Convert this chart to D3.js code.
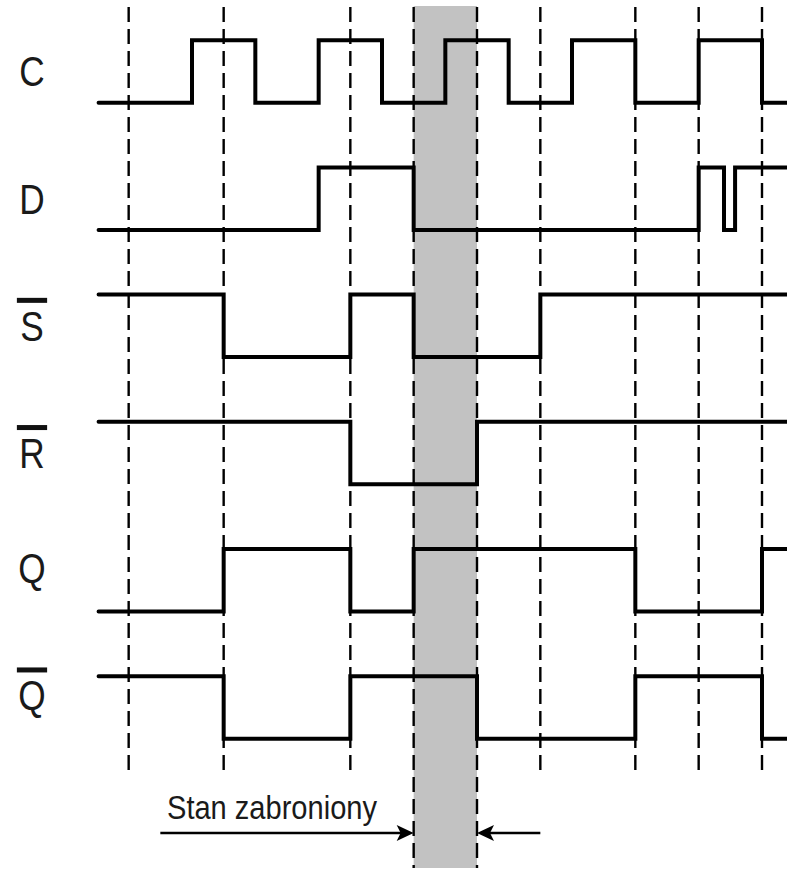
<!DOCTYPE html>
<head>
<meta charset="utf-8">
<style>
body { margin: 0; background: #fff; }
.sig {
  fill: none;
  stroke: #000;
  stroke-width: 4px;
  stroke-linejoin: miter;
  stroke-linecap: round;
}
.grid {
  stroke: #000;
  stroke-width: 2.4px;
  stroke-dasharray: 15,7;
}
text {
  font-family: "Liberation Sans", Arial, sans-serif;
  fill: #1a1a1a;
}
</style>
</head>
<body>

<script src="https://cdn.jsdelivr.net/npm/d3@7"></script>
<script>
// signal names, overline flag, starting level, edge times (quarter clock periods)
var names = ["C", "D", "S", "R", "Q", "Q"];
var bars = [false, false, true, true, false, true];
var starts = [0, 0, 1, 1, 0, 1];
var edges = [
  [3, 5, 7, 9, 11, 13, 15, 17, 19, 21],
  [7, 10, 19, 19.8, 20.15],
  [4, 8, 10, 14],
  [8, 12],
  [4, 8, 10, 17, 21],
  [4, 8, 12, 17, 21]
];
var gridTimes = [1, 4, 8, 10, 12, 14, 17, 19, 21];
var forbidden = [10, 12];
var arrowFrom = [2, 14];
var caption = "Stan zabroniony";

var width = 787, height = 870;

var svg = d3.select("body").append("svg")
  .attr("width", width)
  .attr("height", height);

var x = d3.scaleLinear().domain([0, 21]).range([97, 762]);
var row = d3.scaleLinear().domain([0, 5]).range([102.7, 738.7]);
var amp = 62.5;

// forbidden state band
svg.append("rect")
  .attr("x", x(forbidden[0]))
  .attr("y", 6)
  .attr("width", x(forbidden[1]) - x(forbidden[0]))
  .attr("height", 862)
  .attr("fill", "#c2c2c2");

// dashed time markers
svg.selectAll("line.grid")
  .data(gridTimes)
  .enter().append("line")
  .attr("class", "grid")
  .attr("x1", function(d) { return x(d); })
  .attr("x2", function(d) { return x(d); })
  .attr("y1", 7)
  .attr("y2", function(d) { return forbidden.indexOf(d) >= 0 ? 868 : 770; });

var line = d3.line()
  .x(function(d) { return x(d[0]); })
  .y(function(d) { return d[1]; })
  .curve(d3.curveStepAfter);

names.forEach(function(name, i) {
  var low = row(i), high = low - amp;
  var v = starts[i];
  var pts = [[0.05, v ? high : low]];
  edges[i].forEach(function(t) {
    v = 1 - v;
    pts.push([t, v ? high : low]);
  });
  pts.push([22, v ? high : low]);

  svg.append("path")
    .attr("class", "sig")
    .attr("d", line(pts));

  var mid = (low + high) / 2 - (name === "Q" ? 12 : 0);
  var g = svg.append("g")
    .attr("transform", "translate(32," + mid + ") scale(0.84,1)");
  g.append("text")
    .attr("text-anchor", "middle")
    .attr("y", 15)
    .attr("font-size", 42)
    .text(name);
  if (bars[i]) {
    g.append("rect")
      .attr("x", -18)
      .attr("y", -28)
      .attr("width", 36)
      .attr("height", 5)
      .attr("fill", "#111");
  }
});

// arrows pointing at the forbidden band
var ay = 833;
var head = "M0,0L-17,-8L-13,0L-17,8Z";
[[arrowFrom[0], forbidden[0]], [arrowFrom[1], forbidden[1]]].forEach(function(a) {
  var x0 = x(a[0]), x1 = x(a[1]);
  var dir = x1 > x0 ? 1 : -1;
  svg.append("line")
    .attr("x1", x0).attr("x2", x1 - dir * 12)
    .attr("y1", ay).attr("y2", ay)
    .attr("stroke", "#000")
    .attr("stroke-width", 2.5);
  svg.append("path")
    .attr("d", head)
    .attr("transform", "translate(" + x1 + "," + ay + ") scale(" + dir + ",1)")
    .attr("fill", "#000");
});

svg.append("text")
  .attr("x", 167)
  .attr("y", 819)
  .attr("font-size", 33)
  .attr("textLength", 210)
  .attr("lengthAdjust", "spacingAndGlyphs")
  .text(caption);
</script>
</body>
